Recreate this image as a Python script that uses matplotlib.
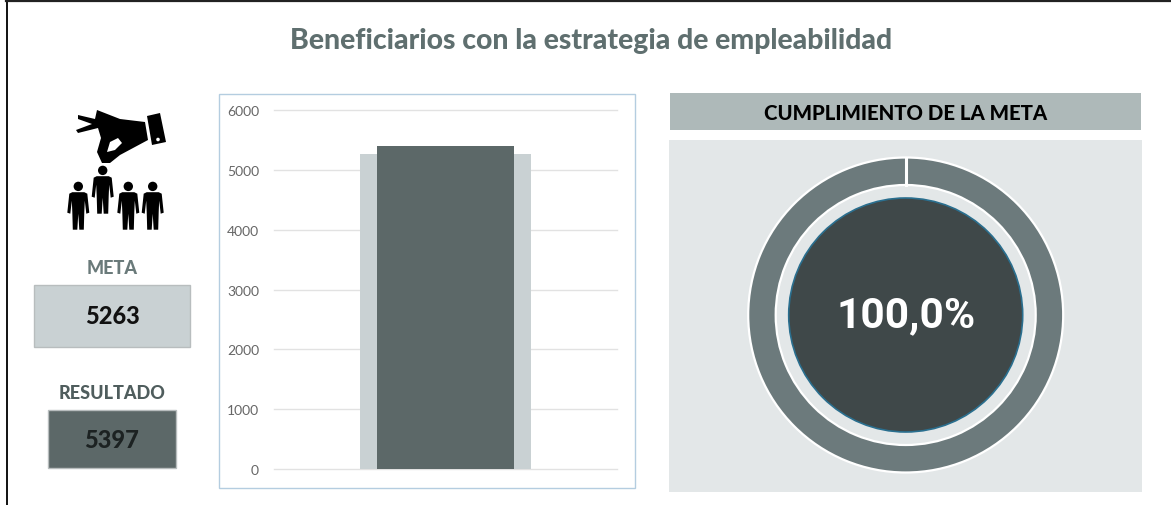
import numpy as np
import matplotlib
matplotlib.use("Agg")
import matplotlib.pyplot as plt
from matplotlib.font_manager import FontProperties
from matplotlib.patches import Rectangle, Circle, Polygon

W, H = 1171, 506

title = "Beneficiarios con la estrategia de empleabilidad"
meta = 5263
resultado = 5397
yticks = [0, 1000, 2000, 3000, 4000, 5000, 6000]
cumplimiento = 100.0


def box(ax, x, y, w, h, fc, ec="none", lw=1, z=1):
    ax.add_patch(Rectangle((x, y), w, h, fc=fc, ec=ec, lw=lw, zorder=z))


def person(ax, cx, top):
    # little man, 48 px tall
    ax.add_patch(Circle((cx, top + 4.7), 4.7, fc="k", ec="none", zorder=3))
    body = [(-6, 10.5), (6, 10.5), (9, 12), (11, 31), (8, 32), (6.5, 19), (6, 30), (5.5, 48), (1, 48),
            (0, 32), (-1, 48), (-5.5, 48), (-6, 30), (-6.5, 19), (-8, 32), (-11, 31), (-9, 12)]
    ax.add_patch(Polygon([(cx + a, top + b) for a, b in body], fc="k", ec="none", zorder=3))


plt.rcParams['font.family'] = ['Lato', 'DejaVu Sans']
fig = plt.figure(figsize=(W/100, H/100), dpi=100, facecolor="white")

bg = fig.add_axes([0, 0, 1, 1])
bg.set_xlim(0, W)
bg.set_ylim(H-1, -1)
bg.axis("off")

# page frame
bg.plot([6.5, 6.5], [H, 1], color="#111111", lw=1.4)
bg.plot([6, W], [0.5, 0.5], color="#222222", lw=1.6)

bg.text(591, 40, title, ha="center", va="center", fontsize=20.4, fontweight=900, color="#5f6f6f")

# hand
hand = [(78, 115), (95, 119), (97, 110), (120, 119), (145, 122), (148, 140), (120, 155), (110, 163),
        (102, 163), (97, 152), (101, 138), (98, 128), (78, 133), (76, 130), (92, 124), (78, 119)]
bg.add_patch(Polygon(hand, fc="k", ec="none", zorder=3))
bg.add_patch(Polygon([(147, 116), (160, 113), (166, 142), (152, 145)], fc="k", ec="none", zorder=3))
bg.add_patch(Circle((158, 139.5), 1.8, fc="white", ec="none", zorder=4))
bg.add_patch(Polygon([(107, 152), (110, 142), (118, 138), (122, 143), (115, 150)], fc="white", ec="none", zorder=4))
for cx, top in [(102.7, 165.7), (78.3, 181.7), (128.3, 181.7), (152.7, 181.7)]:
    person(bg, cx, top)

# meta and resultado boxes
bg.text(112, 268, "META", ha="center", va="center", fontsize=13, fontweight=900, color="#6a7a7a")
box(bg, 34, 285, 156, 62, "#c9d1d3", "#b8bdbe")
bg.text(112, 316, str(meta), ha="center", va="center", fontsize=17, fontweight=900, color="#111111")
bg.text(112, 393, "RESULTADO", ha="center", va="center", fontsize=13, fontweight=900, color="#4f5d5d")
box(bg, 48, 410, 128, 58, "#5c6868", "#b8bdbe")
bg.text(112, 440, str(resultado), ha="center", va="center", fontsize=17, fontweight=900, color="#1c2222")

# bar chart frame
box(bg, 218.5, 93.5, 416, 394, "white", "#b4cde0")

# right panels
box(bg, 670, 93, 471, 37, "#aeb9b9")
bg.text(905.5, 112, "CUMPLIMIENTO DE LA META", ha="center", va="center", fontsize=14.7,
        fontweight=900, color="black")
box(bg, 669, 140, 473, 352, "#e3e7e8")

# bar chart, axes placed on the plot area
ax = fig.add_axes([274/W, 1 - 469.8/H, (617-274)/W, (469.8-111.3)/H])
ax.patch.set_alpha(0)
ax.set_xlim(-0.5, 0.5)
ax.set_ylim(0, 6000)
ax.bar([0], [meta], width=171/343, color="#c9d1d3", zorder=2)
ax.bar([0], [resultado], width=137/343, color="#5c6868", zorder=3)
ax.set_yticks(yticks)
ax.set_xticks([])
ax.grid(axis="y", color="#e2e2e2", lw=1, zorder=1, clip_on=False)
ax.tick_params(axis="y", length=0, labelsize=10, labelcolor="#666666", pad=10.8)
for s in ax.spines.values():
    s.set_visible(False)

# donut, one wedge for the whole percentage
cx, cy, R = 905.7, 316.0, 157.5
don = fig.add_axes([(cx-R-2)/W, 1 - (cy+R+2)/H, (2*R+4)/W, (2*R+4)/H])
don.pie([cumplimiento], startangle=90, counterclock=False, radius=R, colors=["#6c7a7c"],
        wedgeprops=dict(width=R-130, edgecolor="white", linewidth=1.6))
don.set_xlim(-(R+2), R+2)
don.set_ylim(-(R+2), R+2)
don.set_aspect("equal")
don.axis("off")
don.plot([0, 0], [130, R], color="white", lw=2.2, zorder=4)
don.add_patch(Circle((0, 0), 117, fc="#3f4849", ec="#2a6f8f", lw=1.2, zorder=5))
pct_font = FontProperties(family="Roboto", weight="bold", size=30.5)
don.text(0, 0, f"{cumplimiento:.1f}%".replace(".", ","), ha="center", va="center",
         fontproperties=pct_font, color="white", zorder=6)

fig.savefig("out.png", dpi=100)
plt.close()
